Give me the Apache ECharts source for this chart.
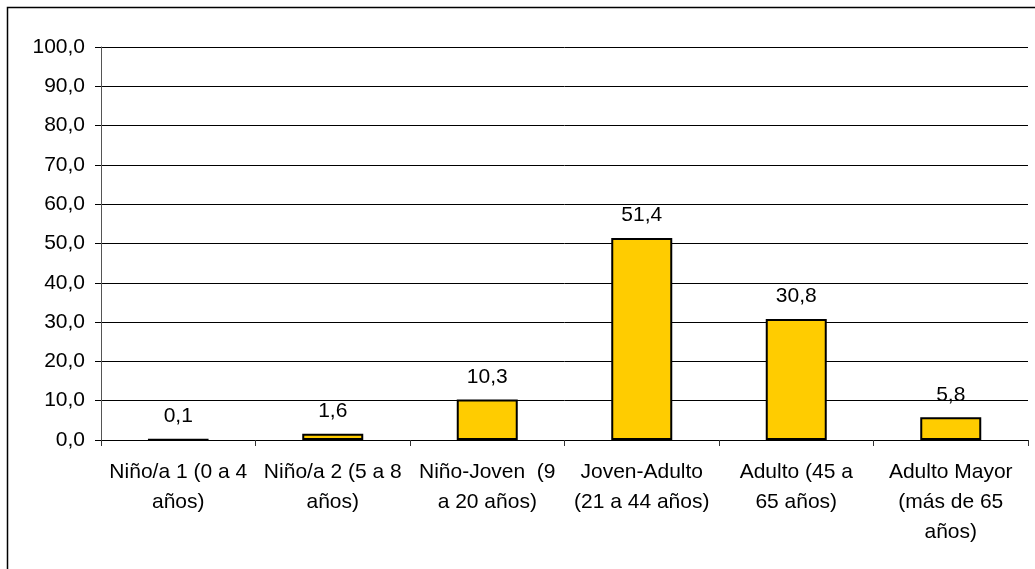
<!DOCTYPE html>
<html>
<head>
<meta charset="utf-8">
<script src="https://cdn.jsdelivr.net/npm/echarts@6/dist/echarts.min.js"></script>
<style>
html,body{margin:0;padding:0;background:#fff;}
#c{width:1035px;height:569px;}
</style>
</head>
<body>
<div id="c"></div>
<script>
const categories = [
  "Niño/a 1 (0 a 4\naños)",
  "Niño/a 2 (5 a 8\naños)",
  "Niño-Joven  (9\na 20 años)",
  "Joven-Adulto\n(21 a 44 años)",
  "Adulto (45 a\n65 años)",
  "Adulto Mayor\n(más de 65\naños)"
];
const values = [0.1, 1.6, 10.3, 51.4, 30.8, 5.8];
const yTicks = { min: 0, max: 100, interval: 10 };

const fmt = v => v.toFixed(1).replace('.', ',');
const font = 'Liberation Sans, Arial, sans-serif';

const chart = echarts.init(document.getElementById('c'), null, {renderer: 'canvas'});
chart.setOption({
  animation: false,
  backgroundColor: '#fff',
  graphic: [{
    type: 'rect',
    shape: {x: 7.5, y: 7.5, width: 1200, height: 1000},
    style: {fill: 'none', stroke: '#000', lineWidth: 1.5},
    silent: true
  }],
  grid: {left: 101, top: 47, width: 927, height: 393, containLabel: false},
  xAxis: {
    type: 'category',
    data: categories,
    boundaryGap: true,
    axisLine: {show: true, lineStyle: {color: '#000', width: 1}},
    axisTick: {show: true, length: 6, alignWithLabel: false, lineStyle: {color: '#333'}},
    axisLabel: {
      interval: 0, margin: 17, color: '#000',
      fontFamily: font, fontSize: 21, lineHeight: 30, align: 'center'
    },
    splitLine: {show: false}
  },
  yAxis: {
    type: 'value',
    min: yTicks.min, max: yTicks.max, interval: yTicks.interval,
    axisLine: {show: true, lineStyle: {color: '#555', width: 1}},
    axisTick: {show: true, length: 6, lineStyle: {color: '#000'}},
    axisLabel: {
      margin: 16, color: '#000', fontFamily: font, fontSize: 21,
      formatter: v => fmt(v)
    },
    splitLine: {show: true, lineStyle: {color: '#000', width: 1}}
  },
  series: [{
    type: 'bar',
    data: values,
    barWidth: 61,
    itemStyle: {color: '#FFCC00', borderColor: '#000', borderWidth: 2},
    label: {
      show: true, position: 'top', distance: 12, color: '#000',
      fontFamily: font, fontSize: 21,
      formatter: p => fmt(p.value)
    }
  }]
});
</script>
</body>
</html>
